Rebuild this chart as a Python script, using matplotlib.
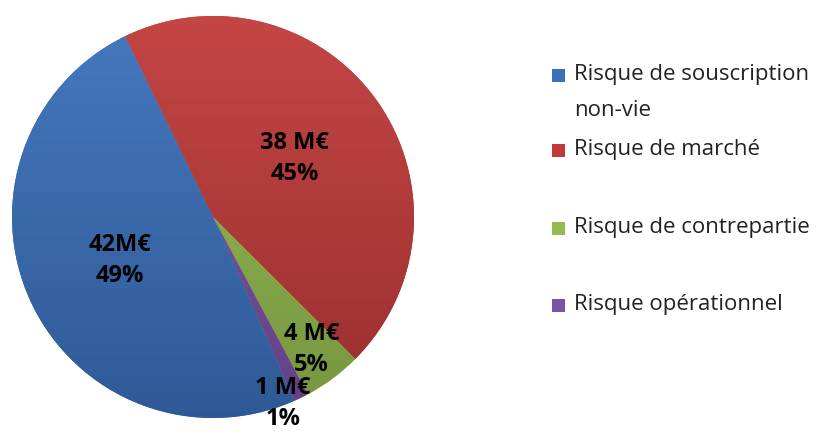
import numpy as np
import matplotlib
matplotlib.use("Agg")
import matplotlib.pyplot as plt
from matplotlib.patches import Rectangle
from matplotlib.colors import LinearSegmentedColormap, to_rgb

plt.rcParams['font.family'] = ['Open Sans', 'DejaVu Sans']

# slices, in drawing order (clockwise from the red/blue border)
amounts = [38, 4, 1, 42]           # M€
pct_text = ["45%", "5%", "1%", "49%"]
amount_text = ["38 M€", "4 M€", "1 M€", "42M€"]
colors = ["#c03a39", "#93bb4f", "#7a52a6", "#3a70bb"]
label_radius = [0.50, 0.82, 0.99, 0.51]
label_turn = [0, 0, -5.5, 0]       # degrees, small nudge of the label angle

# legend order as in the original
legend_order = [3, 0, 1, 2]
legend_names = ["Risque de souscription\nnon-vie", "Risque de marché",
                "Risque de contrepartie", "Risque opérationnel"]


def shade(c, f):
    rgb = np.array(to_rgb(c))
    if f > 1:
        return tuple(rgb + (1 - rgb) * (f - 1))
    return tuple(rgb * f)


W, H = 834, 433
fig = plt.figure(figsize=(W / 100, H / 100), dpi=100)
cx, cy, r = 213, 217, 201
ax = fig.add_axes([(cx - r) / W, (H - cy - r) / H, 2 * r / W, 2 * r / H])

wedges, _ = ax.pie(amounts, colors=colors, startangle=116, counterclock=False,
                   radius=1, wedgeprops=dict(linewidth=0))

# soft top-to-bottom gradient like the Excel fill
grad = np.linspace(0, 1, 256).reshape(-1, 1)
for w, c in zip(wedges, colors):
    cmap = LinearSegmentedColormap.from_list("g", [shade(c, 0.80), shade(c, 1.06)])
    im = ax.imshow(grad, cmap=cmap, extent=(-1, 1, -1, 1), origin='lower',
                   aspect='auto', zorder=w.get_zorder() + 0.1)
    im.set_clip_path(w)

ax.set_xlim(-1, 1)
ax.set_ylim(-1, 1)
ax.set_aspect('equal')
ax.axis('off')

for w, rad, turn, a, p in zip(wedges, label_radius, label_turn, amount_text, pct_text):
    mid = np.deg2rad((w.theta1 + w.theta2) / 2 + turn)
    ax.text(rad * np.cos(mid), rad * np.sin(mid), a + "\n" + p,
            ha='center', va='center', fontsize=17, fontweight='bold',
            color='black', linespacing=1.4, clip_on=False, zorder=5)

# legend drawn by hand so the two-line entry keeps its marker on line 1
y_rows = [75, 150, 228, 305]
for i, (k, y) in enumerate(zip(legend_order, y_rows)):
    fig.patches.append(Rectangle((552 / W, (H - y - 7) / H), 13 / W, 13 / H,
                                 transform=fig.transFigure,
                                 facecolor=colors[k], edgecolor='none'))
    fig.text(574 / W, (H - y + 11) / H, legend_names[i], ha='left', va='top',
             fontsize=16, color='#222222', linespacing=1.95)

fig.savefig("out.png", dpi=100)
